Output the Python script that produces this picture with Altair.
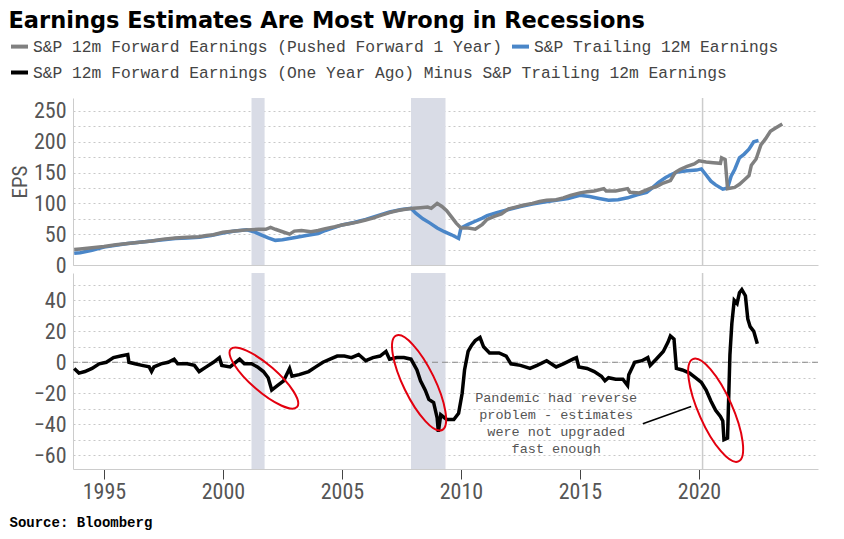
import altair as alt
import pandas as pd

# ---------------- text ----------------
TITLE = "Earnings Estimates Are Most Wrong in Recessions"
LBL_FWD = "S&P 12m Forward Earnings (Pushed Forward 1 Year)"
LBL_TRL = "S&P Trailing 12M Earnings"
LBL_DIFF = "S&P 12m Forward Earnings (One Year Ago) Minus S&P Trailing 12m Earnings"
SOURCE = "Source: Bloomberg"
Y_TITLE = "EPS"
NOTE = ["Pandemic had reverse", "problem - estimates", "were not upgraded", "fast enough"]

# ---------------- data ----------------
fwd_year = [1993.75, 1994.0, 1994.5, 1995.0, 1995.5, 1996.0, 1996.5, 1997.0, 1997.5, 1998.0,
            1998.5, 1999.0, 1999.3, 1999.6, 2000.0, 2000.5, 2001.0, 2001.5, 2001.8, 2002.0,
            2002.2, 2002.5, 2002.8, 2003.0, 2003.3, 2003.7, 2004.0, 2004.3, 2004.7, 2005.0,
            2005.3, 2005.7, 2006.0, 2006.3, 2006.6, 2007.0, 2007.3, 2007.6, 2008.0, 2008.3,
            2008.6, 2008.75, 2009.0, 2009.2, 2009.4, 2009.6, 2009.8, 2010.0, 2010.3, 2010.6,
            2010.9, 2011.1, 2011.4, 2011.7, 2012.0, 2012.3, 2012.6, 2013.0, 2013.3, 2013.6,
            2014.0, 2014.3, 2014.6, 2015.0, 2015.3, 2015.6, 2016.0, 2016.1, 2016.5, 2017.0,
            2017.1, 2017.5, 2018.0, 2018.2, 2018.5, 2018.8, 2019.0, 2019.2, 2019.5, 2019.8,
            2020.0, 2020.3, 2020.6, 2020.9, 2020.95, 2021.1, 2021.2, 2021.5, 2021.7, 2021.9,
            2022.1, 2022.2, 2022.4, 2022.6, 2022.8, 2023.0, 2023.2, 2023.5]
fwd_eps = [25, 26, 28, 30, 33, 35, 37, 39, 42, 44,
           45, 46, 48, 49, 53, 55, 57, 58, 58, 61,
           58, 54, 50, 55, 56, 54, 56, 59, 62, 65,
           67, 70, 73, 76, 80, 85, 88, 90, 92, 93,
           94, 92, 100, 95, 88, 78, 68, 60, 60, 58,
           66, 74, 79, 83, 91, 94, 97, 100, 103, 105,
           106, 109, 113, 117, 119, 120, 124, 120, 120, 124,
           118, 117, 125, 127, 133, 137, 150, 155, 160, 164,
           169, 167, 166, 165, 174, 171, 124, 126, 131, 138,
           145, 162, 172, 195, 205, 217, 222, 229]

trl_year = [1993.75, 1994.0, 1994.5, 1995.0, 1995.5, 1996.0, 1996.5, 1997.0, 1997.5, 1998.0,
            1998.5, 1999.0, 1999.5, 2000.0, 2000.5, 2001.0, 2001.3, 2001.6, 2001.9, 2002.2,
            2002.5, 2002.8, 2003.1, 2003.5, 2004.0, 2004.3, 2004.7, 2005.0, 2005.5, 2006.0,
            2006.5, 2007.0, 2007.5, 2007.9, 2008.1, 2008.4, 2008.7, 2009.0, 2009.3, 2009.6,
            2009.9, 2010.0, 2010.3, 2010.6, 2010.9, 2011.1, 2011.5, 2012.0, 2012.5, 2013.0,
            2013.5, 2014.0, 2014.5, 2015.0, 2015.4, 2015.8, 2016.2, 2016.6, 2017.0, 2017.4,
            2017.8, 2018.0, 2018.3, 2018.6, 2018.9, 2019.1, 2019.5, 2019.9, 2020.1, 2020.3,
            2020.5, 2020.7, 2021.0, 2021.2, 2021.35, 2021.5, 2021.7, 2021.9, 2022.1, 2022.3,
            2022.5]
trl_eps = [19, 20, 24, 29, 32, 35, 37, 39, 41, 43,
           44, 45, 48, 52, 55, 57, 54, 49, 44, 40,
           41, 43, 45, 48, 51, 56, 61, 65, 69, 74,
           80, 86, 90, 92, 84, 75, 68, 60, 54, 49,
           43, 60, 66, 71, 76, 80, 85, 90, 95, 99,
           102, 105, 108, 113, 111, 108, 105, 106, 109, 114,
           118, 124, 134, 142, 148, 151, 153, 154, 156, 146,
           136, 130, 123, 125, 144, 155, 174, 180, 188, 200,
           202]

diff_year = [1993.75, 1993.95, 1994.2, 1994.5, 1994.8, 1995.1, 1995.4, 1995.7, 1996.0, 1996.05,
             1996.3, 1996.6, 1996.9, 1997.0, 1997.1, 1997.4, 1997.7, 1997.95, 1998.1, 1998.5,
             1998.8, 1999.0, 1999.3, 1999.6, 1999.85, 1999.95, 2000.3, 2000.7, 2000.9, 2001.2,
             2001.45, 2001.7, 2001.9, 2002.05, 2002.3, 2002.55, 2002.8, 2002.9, 2003.2, 2003.6,
             2003.9, 2004.2, 2004.5, 2004.8, 2005.1, 2005.4, 2005.7, 2006.0, 2006.3, 2006.6,
             2006.85, 2007.0, 2007.3, 2007.6, 2007.9, 2008.15, 2008.3, 2008.5, 2008.65, 2008.85,
             2009.0, 2009.05, 2009.15, 2009.4, 2009.7, 2009.9, 2010.05, 2010.15, 2010.3, 2010.45,
             2010.6, 2010.8, 2010.95, 2011.2, 2011.6, 2011.9, 2012.1, 2012.5, 2012.9, 2013.2,
             2013.6, 2014.0, 2014.3, 2014.7, 2014.85, 2014.95, 2015.3, 2015.6, 2015.9, 2016.05,
             2016.2, 2016.5, 2016.8, 2017.0, 2017.05, 2017.3, 2017.6, 2017.85, 2017.95, 2018.2,
             2018.5, 2018.7, 2018.8, 2018.95, 2019.05, 2019.3, 2019.6, 2019.85, 2020.1, 2020.3,
             2020.5, 2020.7, 2020.9, 2021.0, 2021.05, 2021.2, 2021.3, 2021.38, 2021.48, 2021.6,
             2021.7, 2021.8, 2021.95, 2022.05, 2022.15, 2022.3, 2022.45]
diff_val = [-4, -7, -6, -4, -1, 0, 3, 4, 5, 0,
            -1, -2, -3, -6, -3, -1, 0, 2, -1, -1,
            -2, -6, -3, 0, 3, -2, -3, 2, -1, -1,
            -3, -6, -10, -18, -15, -12, -4, -9, -8, -6,
            -3, 0, 2, 4, 4, 3, 5, 1, 3, 4,
            7, 2, 3, 3, 2, -5, -12, -18, -24, -26,
            -36, -45, -34, -37, -37, -33, -20, -5, 7, 11,
            14, 16, 10, 6, 6, 4, -1, -2, -4, -2,
            1, -3, -1, 2, 3, -3, -4, -6, -9, -12,
            -10, -11, -11, -15, -8, 0, 1, 3, -2, 2,
            7, 13, 17, 15, -4, -5, -7, -10, -13, -18,
            -25, -31, -35, -38, -50, -49, 5, 25, 40, 38,
            45, 47, 43, 28, 23, 20, 12]

rec_start = [2001.2, 2007.9]
rec_end = [2001.75, 2009.35]
covid_year = [2020.15]

ring_year = [2001.72, 2008.24, 2020.7]
ring_val = [-10.2, -13.3, -31.0]
ring_len = [88, 105, 112]
ring_angle = [41, 64, 66]

note_year = [2014.0]
note_val = [-22.9]
leader_year = [2017.64]
leader_year2 = [2019.67]
leader_val = [-39.8]
leader_val2 = [-28.6]

x_ticks = [1995, 2000, 2005, 2010, 2015, 2020]
top_grid = list(range(0, 251, 25))
bot_grid = list(range(-60, 51, 10))
x_domain = [1993.7, 2025.0]
top_domain = [0, 271]
bot_domain = [-69, 57.7]

# ---------------- styling ----------------
GRAY = "#808080"
BLUE = "#4a86c8"
BAND = "#d9dce6"
SANS = "'Liberation Sans Narrow', 'Roboto Condensed', Roboto, sans-serif"
TITLE_FONT = "'DejaVu Sans', Verdana, sans-serif"
MONO = "'Liberation Mono', 'DejaVu Sans Mono', monospace"
W = 745

df_fwd = pd.DataFrame({"year": fwd_year, "value": fwd_eps, "series": LBL_FWD})
df_trl = pd.DataFrame({"year": trl_year, "value": trl_eps, "series": LBL_TRL})
df_diff = pd.DataFrame({"year": diff_year, "value": diff_val, "series": LBL_DIFF})
df_rec = pd.DataFrame({"start": rec_start, "end": rec_end})
df_covid = pd.DataFrame({"year": covid_year})
df_ring = pd.DataFrame({"year": ring_year, "value": ring_val,
                        "size": [l * l for l in ring_len], "angle": ring_angle})
df_note = pd.DataFrame({"year": note_year, "value": note_val})
df_leader = pd.DataFrame({"year": leader_year, "year2": leader_year2,
                          "value": leader_val, "value2": leader_val2})
df_zero = pd.DataFrame({"value": [0]})

xscale = alt.Scale(domain=x_domain, nice=False, zero=False)

AX_TOP = alt.Axis(labels=False, ticks=False, grid=False, title=None, domainColor="#cccccc")
AX_BOT = alt.Axis(values=x_ticks, format="d", grid=False, tickSize=10, tickColor="#444444",
                  labelFont=SANS, labelFontSize=22, labelColor="#555555", labelPadding=2,
                  domainColor="#cccccc", title=SOURCE, titleFont=MONO, titleFontSize=14,
                  titleFontWeight="bold", titleColor="#000000", titleX=-64, titleY=53,
                  titleAlign="left", titleBaseline="middle")

x_top = alt.X("year:Q", scale=xscale, axis=AX_TOP)
x_bot = alt.X("year:Q", scale=xscale, axis=AX_BOT)


def bands(ax):
    return alt.Chart(df_rec).mark_rect(color=BAND).encode(
        x=alt.X("start:Q", scale=xscale, axis=ax), x2="end:Q")


def covid(ax):
    return alt.Chart(df_covid).mark_rule(color="#cccccc", strokeWidth=1.5).encode(
        x=alt.X("year:Q", scale=xscale, axis=ax))


LEG = dict(orient="none", legendX=-64, direction="horizontal", title=None, padding=0,
           symbolType="stroke", symbolStrokeWidth=4, symbolSize=289, labelFont=MONO,
           labelFontSize=16.3, labelColor="#444444", labelLimit=2000, labelOffset=3)

top_color = alt.Color("series:N",
                      scale=alt.Scale(domain=[LBL_FWD, LBL_TRL], range=[GRAY, BLUE]),
                      legend=alt.Legend(legendY=-62, columnPadding=2, **LEG))

y_top = alt.Y("value:Q", scale=alt.Scale(domain=top_domain, nice=False),
              axis=alt.Axis(values=top_grid, labelExpr="datum.value % 50 == 0 ? datum.label : ''",
                            labelOverlap=False, ticks=False, gridDash=[2, 3], gridColor="#c8c8c8",
                            domainColor="#cccccc", labelFont=SANS, labelFontSize=22,
                            labelColor="#555555", labelPadding=7,
                            title=Y_TITLE, titleFont=SANS, titleFontSize=21,
                            titleFontWeight="normal", titleColor="#555555", titlePadding=3))

line_trl = alt.Chart(df_trl).mark_line(strokeWidth=3.5).encode(x=x_top, y=y_top, color=top_color)
line_fwd = alt.Chart(df_fwd).mark_line(strokeWidth=3.5).encode(x=x_top, y=y_top, color=top_color)

top = alt.layer(bands(AX_TOP), covid(AX_TOP), line_trl, line_fwd).properties(width=W, height=167)

bot_color = alt.Color("series:N",
                      scale=alt.Scale(domain=[LBL_DIFF], range=["#000000"]),
                      legend=alt.Legend(legendY=-211, **LEG))

y_bot = alt.Y("value:Q", scale=alt.Scale(domain=bot_domain, nice=False),
              axis=alt.Axis(values=bot_grid, labelExpr="datum.value % 20 == 0 ? datum.label : ''",
                            labelOverlap=False, ticks=False, gridDash=[2, 3], gridColor="#c8c8c8",
                            domainColor="#cccccc", labelFont=SANS, labelFontSize=22,
                            labelColor="#555555", labelPadding=7, title=None))

zero = alt.Chart(df_zero).mark_rule(color="#888888", strokeDash=[6, 4], strokeWidth=1).encode(
    y=y_bot)

line_diff = alt.Chart(df_diff).mark_line(strokeWidth=3.5).encode(x=x_bot, y=y_bot, color=bot_color)

ELLIPSE = "M -1 0 A 1 0.3 0 1 0 1 0 A 1 0.3 0 1 0 -1 0 Z"
rings = alt.Chart(df_ring).mark_point(shape=ELLIPSE, filled=False, color="#e3000f",
                                      strokeWidth=2, opacity=1).encode(
    x=x_bot, y=y_bot,
    size=alt.Size("size:Q", scale=None, legend=None),
    angle=alt.Angle("angle:Q", scale=None))

leader = alt.Chart(df_leader).mark_rule(color="#000000", strokeWidth=1.5).encode(
    x=x_bot, x2="year2:Q", y=y_bot, y2="value2:Q")

note = alt.Chart(df_note).mark_text(text=NOTE, font=MONO, fontSize=13.5, color="#555555",
                                    align="center", baseline="middle", lineHeight=17.1).encode(
    x=x_bot, y=y_bot)

bottom = alt.layer(bands(AX_BOT), covid(AX_BOT), zero, line_diff, rings, leader, note).properties(
    width=W, height=196)

chart = alt.vconcat(top, bottom, spacing=8, bounds="flush").resolve_scale(
    color="independent").properties(
    title=alt.TitleParams(TITLE, anchor="start", frame="bounds", font=TITLE_FONT, fontSize=22.5,
                          fontWeight="bold", color="#000000", offset=3),
    padding={"top": 2, "left": 0, "right": 0, "bottom": 0}
).configure_view(stroke="transparent")

chart.save("out.html", embed_options={"renderer": "svg", "actions": False})
